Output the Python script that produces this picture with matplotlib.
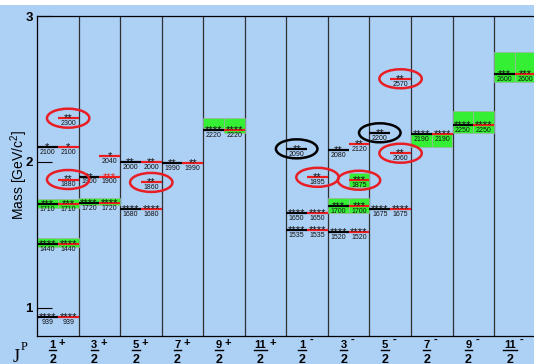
import matplotlib
matplotlib.use("Agg")
import matplotlib.pyplot as plt
import matplotlib.transforms as mtransforms
from matplotlib.patches import Ellipse, Rectangle

plt.rcParams["mathtext.default"] = "regular"

# J^P of each column
numerators = ["1", "3", "5", "7", "9", "11", "1", "3", "5", "7", "9", "11"]
parities = ["+", "+", "+", "+", "+", "+", "-", "-", "-", "-", "-", "-"]

# Left half of each column: established resonances (black)
exp_col = [0, 0, 0, 0, 1, 1, 2, 2, 3, 4, 6, 6, 6, 7, 7, 7, 8, 8, 9, 10, 11]
exp_mass = [939, 1440, 1710, 2100, 1720, 1900, 1680, 2000, 1990, 2220,
            1535, 1650, 2090, 1520, 1700, 2080, 1675, 2200, 2190, 2250, 2600]
exp_stars = [4, 4, 3, 1, 4, 2, 4, 2, 2, 4, 4, 4, 2, 4, 3, 2, 4, 2, 4, 4, 3]

# Right half of each column: updated assignments (red)
new_col = [0, 0, 0, 0, 0, 0, 1, 1, 1, 2, 2, 2, 3, 4, 6, 6, 6,
           7, 7, 7, 7, 8, 8, 8, 9, 10, 11]
new_mass = [939, 1440, 1710, 1880, 2100, 2300, 1720, 1900, 2040, 1680, 1860, 2000,
            1990, 2220, 1535, 1650, 1895, 1520, 1700, 1875, 2120, 1675, 2060, 2570,
            2190, 2250, 2600]
new_stars = [4, 4, 3, 2, 1, 2, 4, 3, 1, 4, 2, 2, 2, 4, 4, 4, 2,
             4, 3, 3, 2, 4, 2, 2, 4, 4, 3]

# rating upgraded (red stars)
upgraded_col = [1]
upgraded_mass = [1900]

# circled states
black_ring_col = [6, 8]
black_ring_mass = [2090, 2200]
red_ring_col = [0, 0, 2, 6, 7, 8, 8]
red_ring_mass = [1880, 2300, 1860, 1895, 1875, 2060, 2570]

# green bands: column, half (0 = left, 1 = right), mass range in MeV
band_col = [0, 0, 0, 0, 1, 1, 4, 4, 7, 7, 7, 9, 9, 10, 10, 11, 11]
band_half = [0, 1, 0, 1, 0, 1, 0, 1, 0, 1, 1, 0, 1, 0, 1, 0, 1]
band_lo = [1415, 1415, 1685, 1685, 1705, 1705, 2230, 2200, 1650, 1650, 1830,
           2100, 2100, 2200, 2200, 2550, 2550]
band_hi = [1480, 1480, 1745, 1745, 1755, 1755, 2300, 2300, 1750, 1750, 1925,
           2200, 2200, 2350, 2350, 2750, 2750]

BG = "#add0f5"
RED = "#ee1c1c"
GREEN = "#35ef35"
SANS = "Liberation Sans"
PT = 0.72  # points per pixel at 100 dpi

W, H = 534, 364
fig = plt.figure(figsize=(W / 100, H / 100), dpi=100, facecolor=BG)
ax = fig.add_axes([37 / W, 28 / H, 498.6 / W, 320 / H])
ax.set_facecolor(BG)
ax.set_xlim(0, 12)
ax.set_ylim(0.808, 3.0)

fig.add_artist(Rectangle((0, 1 - 5 / H), 1, 5 / H, transform=fig.transFigure,
                         facecolor="white", edgecolor="none"))

# column separators
for k in range(1, 12):
    ax.axvline(k, color="#303030", lw=0.9, zorder=1)

# green bands
for c, h, lo, hi in zip(band_col, band_half, band_lo, band_hi):
    ax.add_patch(Rectangle((c + 0.5 * h, lo / 1000), 0.5, (hi - lo) / 1000,
                           facecolor=GREEN, edgecolor="#9fb59f", lw=0.5, zorder=2))


def level(c, m, n, half, color, star_color):
    x0 = c + 0.5 * half
    y = m / 1000
    ax.plot([x0, x0 + 0.5], [y, y], color=color, lw=1.6, solid_capstyle="butt",
            zorder=3)
    ax.annotate("*" * n, xy=(x0 + 0.25, y), xytext=(0, -3.0 * PT),
                textcoords="offset points", ha="center", va="baseline",
                fontsize=8, family=SANS, color=star_color, zorder=4)
    ax.annotate(str(m), xy=(x0 + 0.25, y), xytext=(0, -6.8 * PT),
                textcoords="offset points", ha="center", va="baseline",
                fontsize=5, family=SANS, color="#111111", zorder=4)


for c, m, n in zip(exp_col, exp_mass, exp_stars):
    level(c, m, n, 0, "black", "#111111")

upgraded = set(zip(upgraded_col, upgraded_mass))
for c, m, n in zip(new_col, new_mass, new_stars):
    level(c, m, n, 1, RED, RED if (c, m) in upgraded else "#111111")

# rings
for c, m in zip(black_ring_col, black_ring_mass):
    ax.add_patch(Ellipse((c + 0.25, m / 1000), 1.0, 0.13, fill=False,
                         edgecolor="black", lw=1.8, zorder=5, clip_on=False))
for c, m in zip(red_ring_col, red_ring_mass):
    ax.add_patch(Ellipse((c + 0.75, m / 1000), 1.02, 0.13, fill=False,
                         edgecolor="#e81e24", lw=1.8, zorder=5, clip_on=False))

# axes styling
for side in ("left", "top", "bottom"):
    ax.spines[side].set_color("black")
    ax.spines[side].set_linewidth(0.9)
ax.spines["right"].set_visible(False)
ax.set_xticks([])
ax.set_yticks([1, 2, 3])
ax.set_yticklabels(["1", "2", "3"], fontsize=9.5, fontweight="bold", family=SANS)
ax.tick_params(axis="y", direction="in", length=15 * PT, width=0.8, pad=3)

fig.text(19 / W, 1 - 175 / H, "Mass [GeV/c$^2$]", rotation=90, ha="center",
         va="center", fontsize=10, family=SANS)

# J^P labels under the columns
fig.text(12.5 / W, (H - 362.5) / H, "J", family="Liberation Serif", fontsize=13,
         ha="left", va="baseline")
fig.text(21 / W, (H - 350) / H, "P", family="Liberation Serif", fontsize=9,
         ha="left", va="baseline")

col_px = 498.6 / 12
trans = mtransforms.blended_transform_factory(ax.transData, ax.transAxes)
bar_off = mtransforms.ScaledTranslation(0, -13.6 / 100, fig.dpi_scale_trans)
for k, (num, par) in enumerate(zip(numerators, parities)):
    cx = k + 0.5
    fdx = -5.0
    ax.annotate(num, xy=(cx, 0), xycoords=trans, xytext=(fdx * PT, -12 * PT),
                textcoords="offset points", ha="center", va="baseline",
                fontsize=8, fontweight="bold", family=SANS, annotation_clip=False)
    ax.annotate("2", xy=(cx, 0), xycoords=trans, xytext=(fdx * PT, -27 * PT),
                textcoords="offset points", ha="center", va="baseline",
                fontsize=9, fontweight="bold", family=SANS, annotation_clip=False)
    halfw = 0.5 * len(num) * 6.2 + 0.6
    ax.plot([cx + (fdx - halfw) / col_px, cx + (fdx + halfw) / col_px], [0, 0],
            transform=trans + bar_off, color="black", lw=1.0, clip_on=False)
    sdx = 7.0 if len(num) > 1 else 4.0
    sdy = -10.0 if par == "+" else -7.0
    ax.annotate(par, xy=(cx, 0), xycoords=trans, xytext=(sdx * PT, sdy * PT),
                textcoords="offset points", ha="center", va="baseline",
                fontsize=8, fontweight="bold", family=SANS, annotation_clip=False)

fig.savefig("out.png", dpi=100, facecolor=BG)
